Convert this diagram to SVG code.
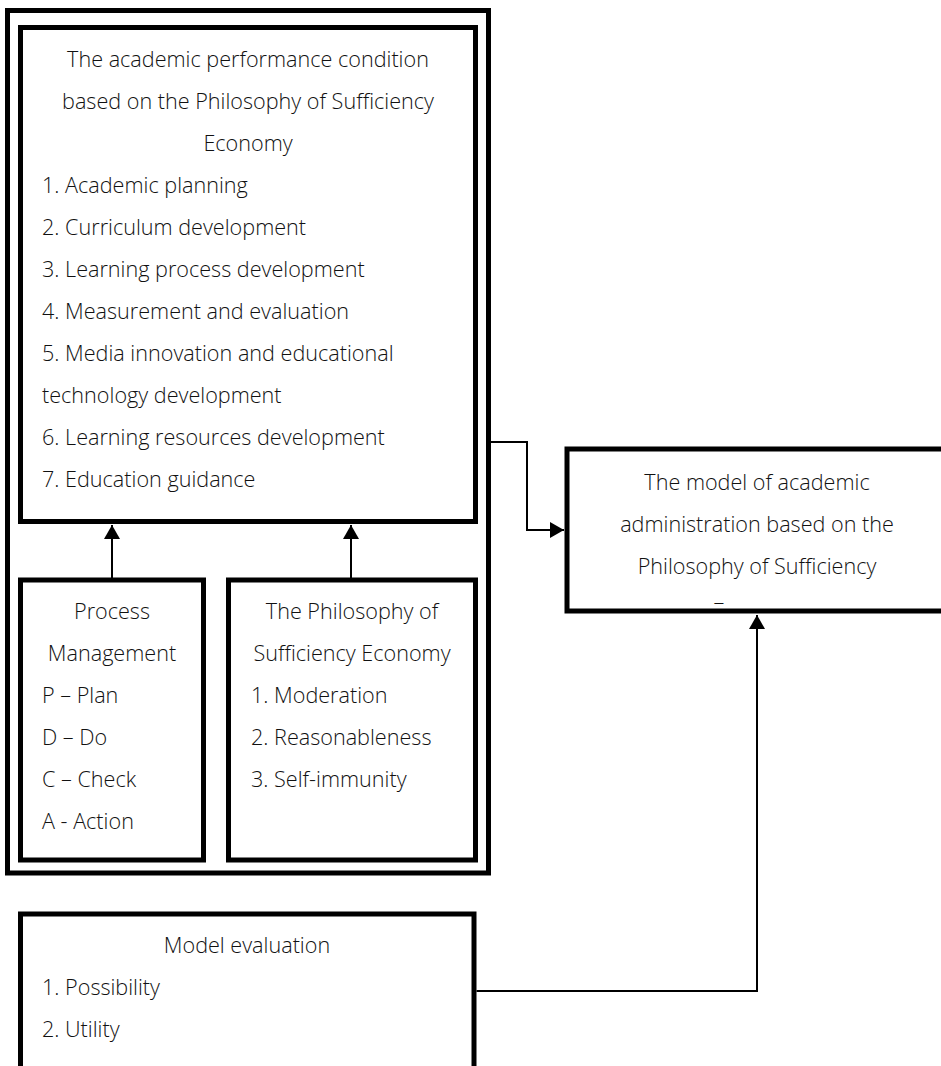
<svg xmlns="http://www.w3.org/2000/svg" width="941" height="1066" viewBox="0 0 941 1066">
<style>
.box{fill:#fff;stroke:#000;stroke-width:5}
.t{font-family:"Open Sans","Noto Sans",sans-serif;font-size:21.6px;font-weight:300;fill:#111}
.c{text-anchor:middle}
.ln{fill:none;stroke:#000;stroke-width:2}
</style>
<defs>
<marker id="ah" viewBox="0 0 14 16" refX="14" refY="8" markerWidth="14" markerHeight="16" markerUnits="userSpaceOnUse" orient="auto">
<path d="M0,0 L14,8 L0,16 z" fill="#000"/>
</marker>
</defs>
<rect width="941" height="1066" fill="#fff"/>
<g id="outer">
<rect class="box" x="7.5" y="10.5" width="481" height="862.5"/>
</g>
<g id="conditions">
<rect class="box" x="20.5" y="27.5" width="455" height="494"/>
<text class="t c" x="248" y="67">The academic performance condition</text>
<text class="t c" x="248" y="109">based on the Philosophy of Sufficiency</text>
<text class="t c" x="248" y="151">Economy</text>
<text class="t" x="42" y="193">1. Academic planning</text>
<text class="t" x="42" y="235">2. Curriculum development</text>
<text class="t" x="42" y="277">3. Learning process development</text>
<text class="t" x="42" y="319">4. Measurement and evaluation</text>
<text class="t" x="42" y="361">5. Media innovation and educational</text>
<text class="t" x="42" y="403">technology development</text>
<text class="t" x="42" y="445">6. Learning resources development</text>
<text class="t" x="42" y="487">7. Education guidance</text>
</g>
<g id="process">
<rect class="box" x="20.5" y="580" width="183" height="280"/>
<text class="t c" x="112" y="619">Process</text>
<text class="t c" x="112" y="661">Management</text>
<text class="t" x="42" y="703">P – Plan</text>
<text class="t" x="42" y="745">D – Do</text>
<text class="t" x="42" y="787">C – Check</text>
<text class="t" x="42" y="829">A - Action</text>
</g>
<g id="philosophy">
<rect class="box" x="228.5" y="580" width="247" height="280"/>
<text class="t c" x="352" y="619">The Philosophy of</text>
<text class="t c" x="352" y="661">Sufficiency Economy</text>
<text class="t" x="251" y="703">1. Moderation</text>
<text class="t" x="251" y="745">2. Reasonableness</text>
<text class="t" x="251" y="787">3. Self-immunity</text>
</g>
<g id="model">
<rect class="box" x="567" y="449" width="390" height="162"/>
<text class="t c" x="757" y="490">The model of academic</text>
<text class="t c" x="757" y="532">administration based on the</text>
<text class="t c" x="757" y="574">Philosophy of Sufficiency</text>
<text class="t c" x="719" y="610">–</text>
</g>
<g id="evaluation">
<rect class="box" x="20.5" y="914" width="453.5" height="200"/>
<text class="t c" x="247" y="953">Model evaluation</text>
<text class="t" x="42" y="995">1. Possibility</text>
<text class="t" x="42" y="1037">2. Utility</text>
</g>
<g id="connectors">
<path class="ln" d="M112,578 L112,525" marker-end="url(#ah)"/>
<path class="ln" d="M351,578 L351,525" marker-end="url(#ah)"/>
<path class="ln" d="M491,442 L527,442 L527,530 L564,530" marker-end="url(#ah)"/>
<path class="ln" d="M476.5,991 L757,991 L757,615" marker-end="url(#ah)"/>
</g>
</svg>
